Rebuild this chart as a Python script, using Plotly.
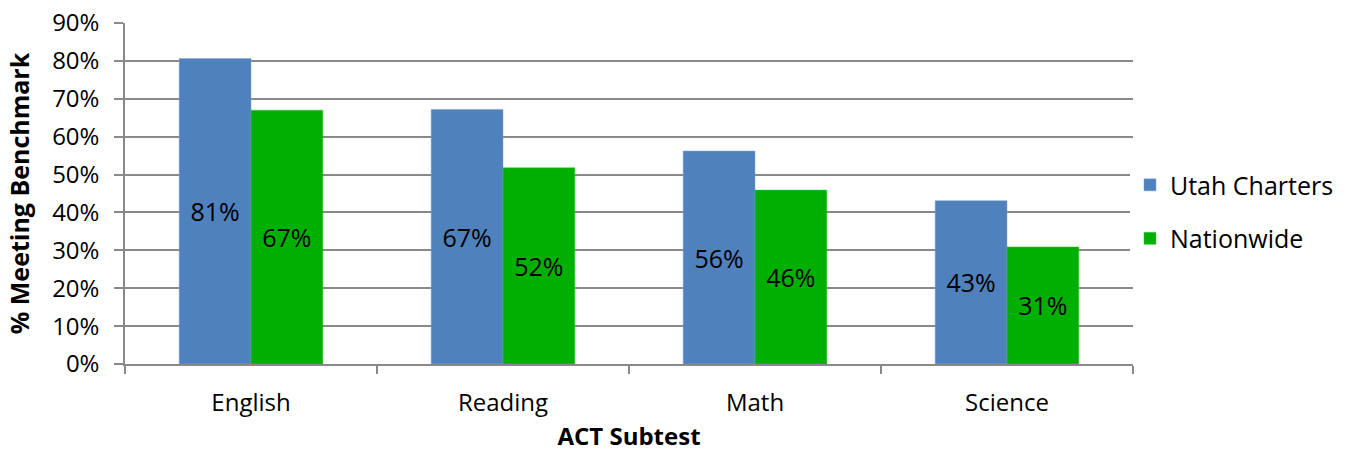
import plotly.graph_objects as go

categories = ["English", "Reading", "Math", "Science"]
utah_charters = [80.6, 67.2, 56.2, 43.1]
nationwide = [67.0, 51.8, 45.9, 30.9]
utah_labels = ["81%", "67%", "56%", "43%"]
nation_labels = ["67%", "52%", "46%", "31%"]
y_ticks = [0, 10, 20, 30, 40, 50, 60, 70, 80, 90]
y_tick_labels = [f"{v}%" for v in y_ticks]

FONT = "Open Sans, Liberation Sans, sans-serif"
GRID = "#898989"

fig = go.Figure()
fig.add_trace(go.Bar(
    x=categories, y=utah_charters, name="Utah Charters",
    marker=dict(color="#4F81BD", line=dict(color="#7FA3D0", width=0.5)),
    text=utah_labels, textposition="inside", insidetextanchor="middle",
    textfont=dict(size=25, color="black", family=FONT),
    legendgroup="a",
))
fig.add_trace(go.Bar(
    x=categories, y=nationwide, name="Nationwide",
    marker=dict(color="#00B000", line=dict(color="#40C040", width=0.5)),
    text=nation_labels, textposition="inside", insidetextanchor="middle",
    textfont=dict(size=25, color="black", family=FONT),
    legendgroup="b",
))

fig.update_layout(
    width=1351, height=452,
    margin=dict(l=125, r=216, t=23, b=88),
    paper_bgcolor="white", plot_bgcolor="white",
    barmode="group", bargap=0.43, bargroupgap=0,
    font=dict(family=FONT, size=24, color="black"),
    showlegend=True,
    legend=dict(
        x=0.997, xanchor="left", y=0.447, yanchor="middle",
        font=dict(size=25, family=FONT), tracegroupgap=18,
        traceorder="grouped", itemwidth=30,
    ),
    uniformtext=dict(mode=False),
)
fig.update_xaxes(
    showline=True, linecolor=GRID, linewidth=1.5,
    ticks="outside", tickson="boundaries", ticklen=8, tickcolor=GRID, tickwidth=1.5,
    tickfont=dict(size=24, family=FONT), ticklabelstandoff=16,
    title=dict(text="<b>ACT Subtest</b>", font=dict(size=24, family=FONT), standoff=25),
    showgrid=False, automargin=False,
)
fig.update_yaxes(
    range=[0, 90], tickvals=y_ticks, ticktext=y_tick_labels,
    showline=True, linecolor=GRID, linewidth=1.5,
    ticks="outside", ticklen=9, tickcolor=GRID, tickwidth=1.5,
    showgrid=True, gridcolor=GRID, gridwidth=1.5,
    tickfont=dict(size=24, family=FONT), ticklabelstandoff=10,
    title=dict(text="<b>% Meeting Benchmark</b>", font=dict(size=25, family=FONT), standoff=15),
    zeroline=False, automargin=False,
)

fig.write_html("out.html", config={"displayModeBar": False},
               post_script="document.body.style.margin='0';")
